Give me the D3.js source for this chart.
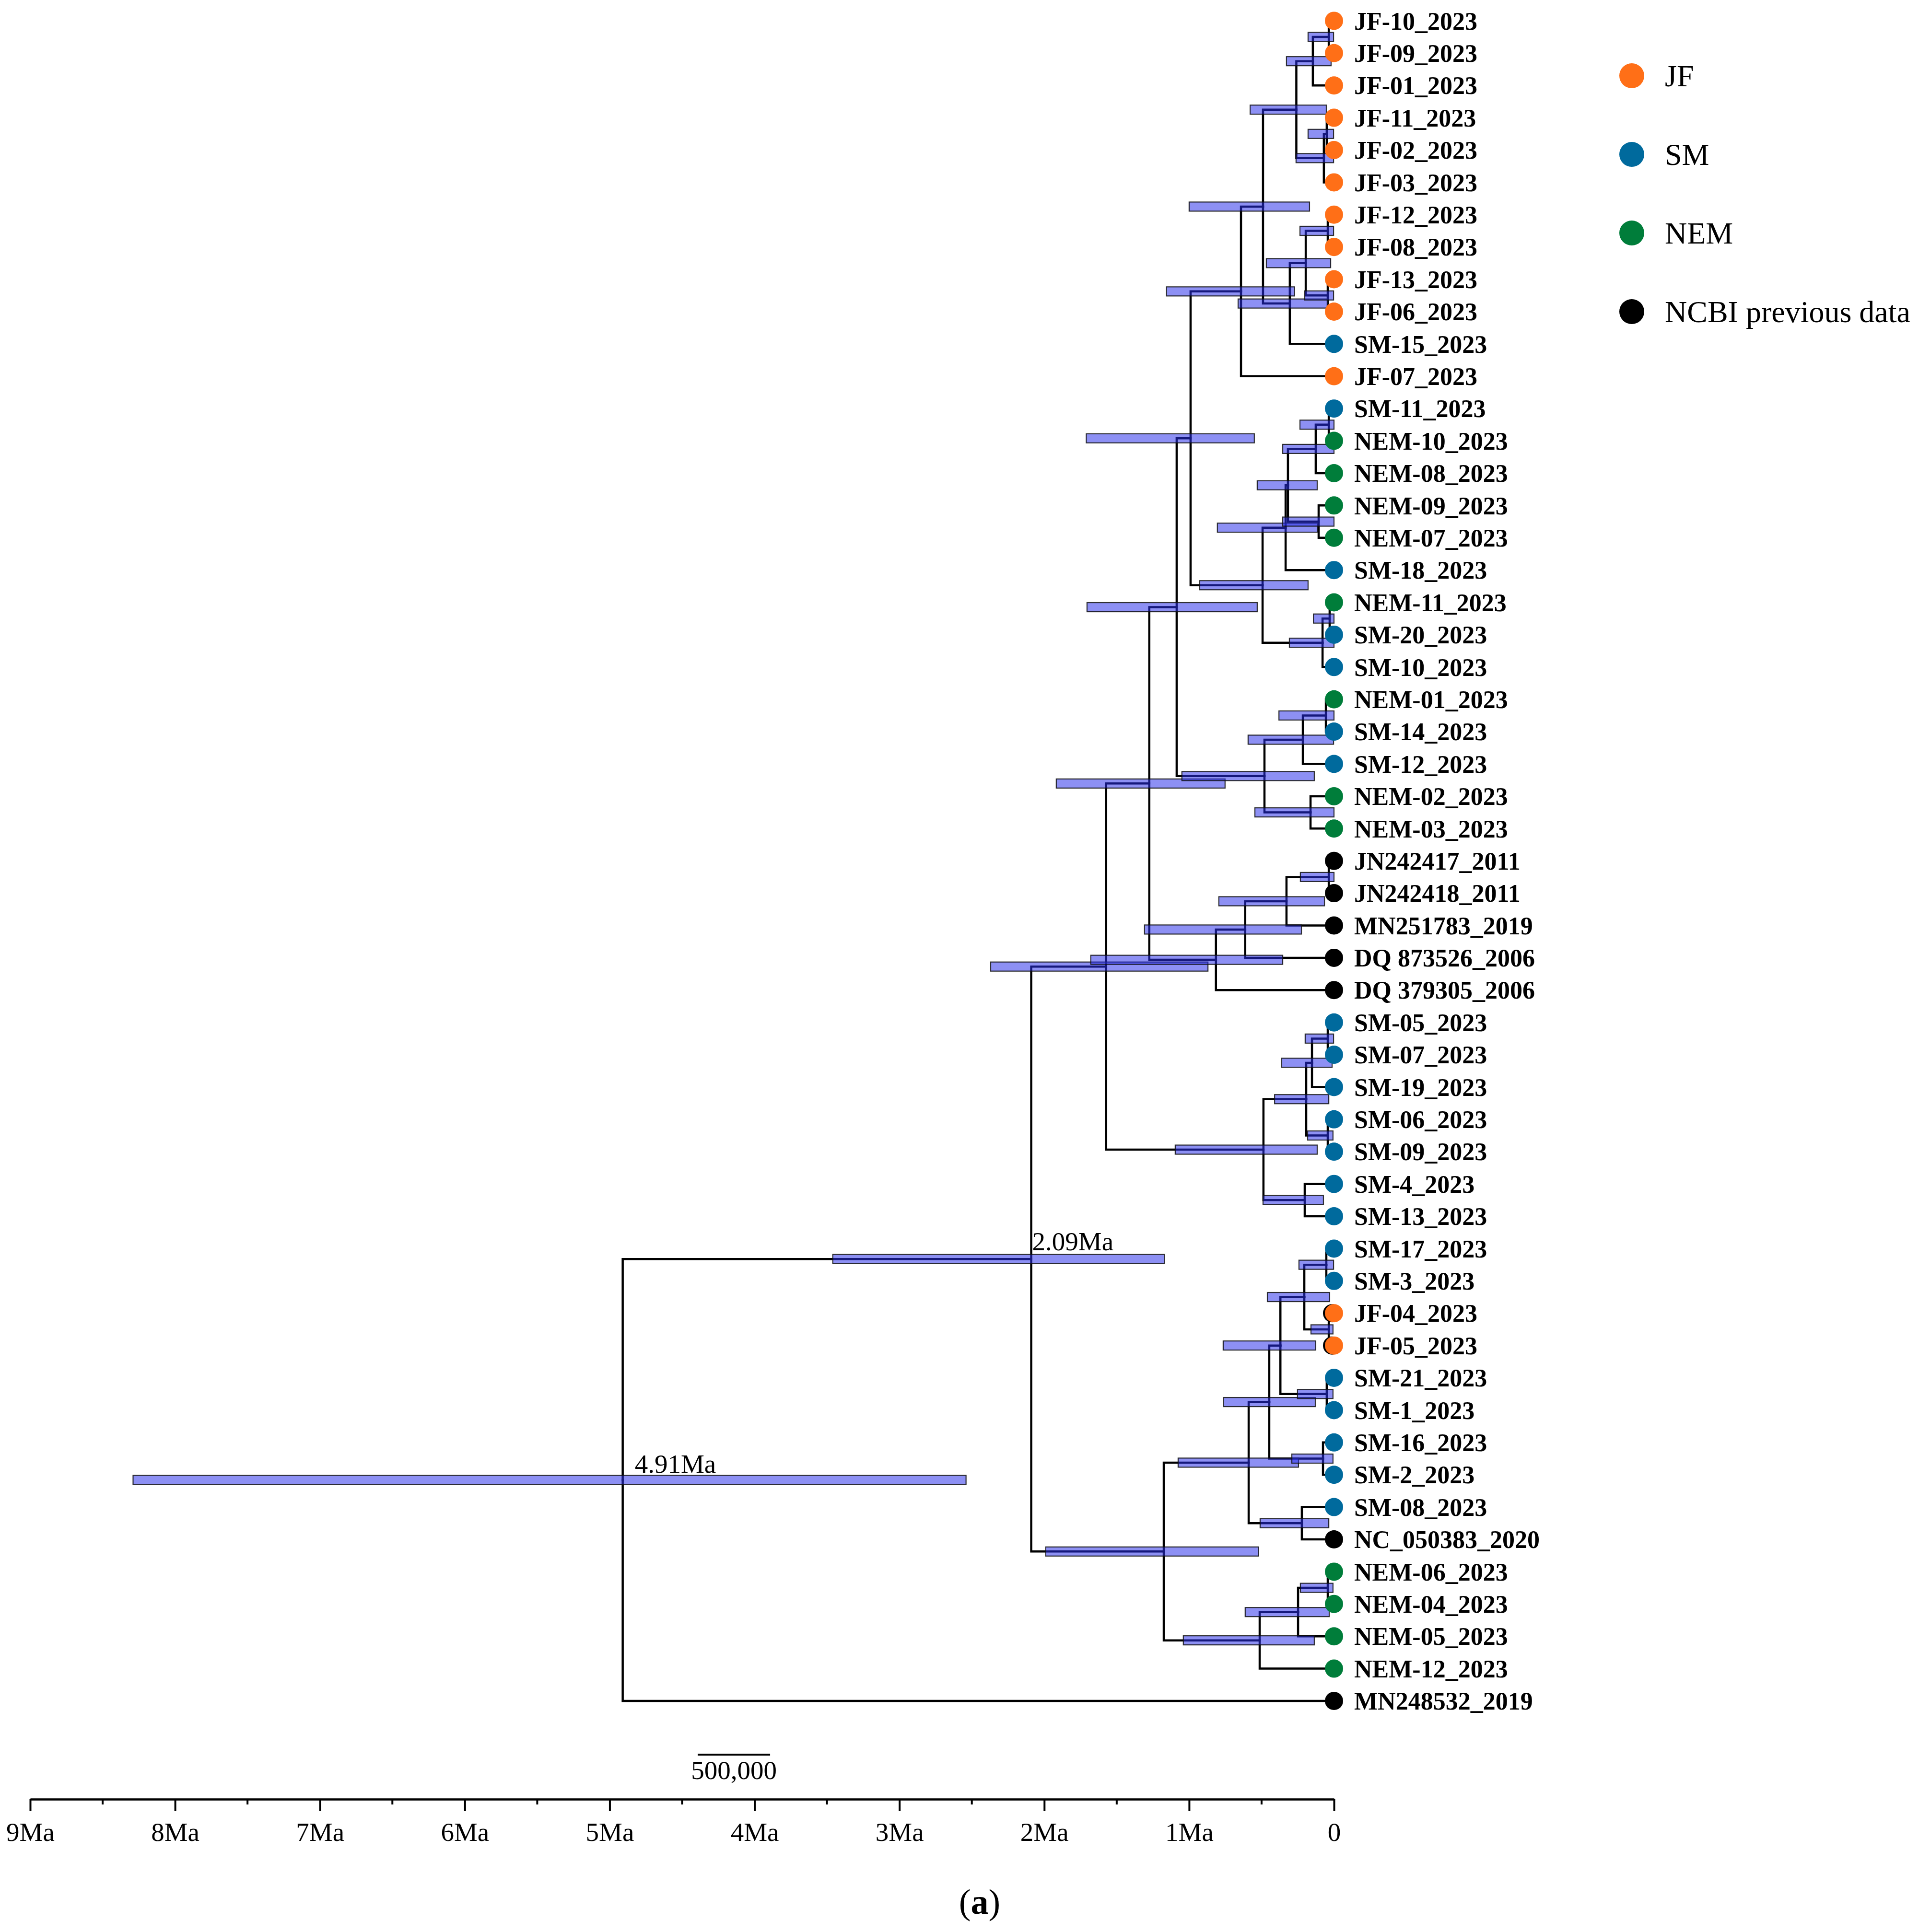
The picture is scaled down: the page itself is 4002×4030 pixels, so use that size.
<!DOCTYPE html>
<html>
<head>
<meta charset="utf-8">
<script src="https://cdn.jsdelivr.net/npm/d3@7"></script>
<style>
  html, body { margin: 0; padding: 0; background: #fff; }
  svg { display: block; }
</style>
</head>
<body>
<script>
// ---------------- DATA ----------------
const tipNames = [
  "JF-10_2023","JF-09_2023","JF-01_2023","JF-11_2023","JF-02_2023","JF-03_2023",
  "JF-12_2023","JF-08_2023","JF-13_2023","JF-06_2023","SM-15_2023","JF-07_2023",
  "SM-11_2023","NEM-10_2023","NEM-08_2023","NEM-09_2023","NEM-07_2023","SM-18_2023",
  "NEM-11_2023","SM-20_2023","SM-10_2023","NEM-01_2023","SM-14_2023","SM-12_2023",
  "NEM-02_2023","NEM-03_2023","JN242417_2011","JN242418_2011","MN251783_2019",
  "DQ 873526_2006","DQ 379305_2006","SM-05_2023","SM-07_2023","SM-19_2023","SM-06_2023",
  "SM-09_2023","SM-4_2023","SM-13_2023","SM-17_2023","SM-3_2023","JF-04_2023","JF-05_2023",
  "SM-21_2023","SM-1_2023","SM-16_2023","SM-2_2023","SM-08_2023","NC_050383_2020",
  "NEM-06_2023","NEM-04_2023","NEM-05_2023","NEM-12_2023","MN248532_2019"
];
const tipGroups = [
  "JF","JF","JF","JF","JF","JF","JF","JF","JF","JF","SM","JF",
  "SM","NEM","NEM","NEM","NEM","SM","NEM","SM","SM","NEM","SM","SM","NEM","NEM",
  "NCBI","NCBI","NCBI","NCBI","NCBI",
  "SM","SM","SM","SM","SM","SM","SM","SM","SM","JF","JF","SM","SM","SM","SM","SM","NCBI",
  "NEM","NEM","NEM","NEM","NCBI"
];
const shadowTips = ["JF-04_2023","JF-05_2023"];

// internal nodes: id, children, age (Ma), 95% HPD lower/upper (Ma)
const nodeIds = [
  "n1","n2","n3","n4","n5","n6","n7","n8","n9","n10","n11","n12",
  "u1","u2","u3","u4","u5","u6","u7","u8",
  "p1","p2","p3","p4","K",
  "c1","c2","c3","c4","L",
  "s1","s2","s3","s4","s5","s6","M",
  "b1","b2","b3","b4","b5","b6","b7","b8","b9","b10","b11","b12","b13",
  "N","root"
];
const nodeChildren = [
  ["JF-10_2023","JF-09_2023"],["n1","JF-01_2023"],["JF-11_2023","JF-02_2023"],["n3","JF-03_2023"],
  ["n2","n4"],["JF-12_2023","JF-08_2023"],["JF-13_2023","JF-06_2023"],["n6","n7"],["n8","SM-15_2023"],
  ["n5","n9"],["n10","JF-07_2023"],["n11","u8"],
  ["SM-11_2023","NEM-10_2023"],["u1","NEM-08_2023"],["NEM-09_2023","NEM-07_2023"],["u2","u3"],
  ["u4","SM-18_2023"],["NEM-11_2023","SM-20_2023"],["u6","SM-10_2023"],["u5","u7"],
  ["NEM-01_2023","SM-14_2023"],["p1","SM-12_2023"],["NEM-02_2023","NEM-03_2023"],["p2","p3"],["n12","p4"],
  ["JN242417_2011","JN242418_2011"],["c1","MN251783_2019"],["c2","DQ 873526_2006"],["c3","DQ 379305_2006"],["K","c4"],
  ["SM-05_2023","SM-07_2023"],["s1","SM-19_2023"],["SM-06_2023","SM-09_2023"],["s2","s3"],
  ["SM-4_2023","SM-13_2023"],["s4","s5"],["L","s6"],
  ["SM-17_2023","SM-3_2023"],["JF-04_2023","JF-05_2023"],["b1","b2"],["SM-21_2023","SM-1_2023"],
  ["b3","b4"],["SM-16_2023","SM-2_2023"],["b5","b6"],["SM-08_2023","NC_050383_2020"],["b7","b8"],
  ["NEM-06_2023","NEM-04_2023"],["b10","NEM-05_2023"],["b11","NEM-12_2023"],["b9","b12"],
  ["M","b13"],["N","MN248532_2019"]
];
const nodeAges = [
  0.036,0.146,0.050,0.070,0.260,0.043,0.043,0.195,0.305,0.490,0.642,0.990,
  0.036,0.126,0.106,0.318,0.334,0.030,0.079,0.493,
  0.056,0.215,0.162,0.480,1.086,
  0.036,0.328,0.613,0.815,1.275,
  0.043,0.152,0.043,0.192,0.202,0.487,1.573,
  0.053,0.036,0.205,0.050,0.370,0.076,0.447,0.222,0.589,0.043,0.248,0.513,1.175,
  2.09,4.91
];
const hpdLower = [
  0.003,0.020,0.003,0.003,0.053,0.003,0.003,0.023,0.043,0.169,0.272,0.550,
  0.000,0.000,0.000,0.116,0.113,0.000,0.000,0.179,
  0.000,0.003,0.000,0.136,0.530,
  0.000,0.066,0.225,0.354,0.752,
  0.003,0.013,0.007,0.036,0.073,0.116,0.870,
  0.003,0.007,0.030,0.007,0.126,0.007,0.129,0.036,0.245,0.007,0.033,0.136,0.520,
  1.17,2.54
];
const hpdUpper = [
  0.179,0.328,0.179,0.262,0.579,0.235,0.202,0.467,0.662,1.000,1.156,1.710,
  0.235,0.354,0.354,0.530,0.805,0.142,0.308,0.927,
  0.380,0.593,0.546,1.050,1.705,
  0.232,0.795,1.308,1.679,1.917,
  0.199,0.361,0.182,0.410,0.490,1.096,2.370,
  0.242,0.159,0.460,0.252,0.765,0.291,0.762,0.510,1.076,0.232,0.613,1.040,1.990,
  3.46,8.29
];
const nodeAgeLabels = [["N","2.09Ma"],["root","4.91Ma"]];

const majorTicks = [9,8,7,6,5,4,3,2,1,0];
const majorTickLabels = ["9Ma","8Ma","7Ma","6Ma","5Ma","4Ma","3Ma","2Ma","1Ma","0"];
const minorTicks = [8.5,7.5,6.5,5.5,4.5,3.5,2.5,1.5,0.5];
const scaleBarLength = 0.5;      // Ma
const scaleBarLabel = "500,000";

const legendKeys = ["JF","SM","NEM","NCBI"];
const legendLabels = ["JF","SM","NEM","NCBI previous data"];
const groupColors = ["#FF6F17","#006A9D","#007D3A","#000000"];
const panelLabel = "a";

// ---------------- LAYOUT ----------------
const W = 4002, H = 4030;
const FONT = "'Liberation Serif','Times New Roman',Times,serif";

const svg = d3.select("body").append("svg")
  .attr("width", W).attr("height", H)
  .attr("viewBox", `0 0 ${W} ${H}`);
svg.append("rect").attr("width", W).attr("height", H).attr("fill", "#fff");

const x = d3.scaleLinear().domain([9, 0]).range([63, 2782]);
const y = d3.scaleLinear().domain([0, tipNames.length - 1]).range([43.4, 3548]);
const color = d3.scaleOrdinal().domain(legendKeys).range(groupColors);

// build tree
const nodeMap = new Map();
tipNames.forEach((n, i) => nodeMap.set(n, {name: n, tip: true, index: i, group: tipGroups[i], age: 0}));
nodeIds.forEach((id, i) => nodeMap.set(id, {name: id, tip: false, age: nodeAges[i], lo: hpdLower[i], hi: hpdUpper[i]}));
nodeIds.forEach((id, i) => { nodeMap.get(id).kids = nodeChildren[i].map(c => nodeMap.get(c)); });

const root = d3.hierarchy(nodeMap.get("root"), d => d.kids);
root.eachAfter(d => {
  d.px = x(d.data.age);
  if (d.data.tip) d.py = y(d.data.index);
  else d.py = d3.mean(d.children, c => c.py);
});

// branches
const gBranch = svg.append("g");
gBranch.selectAll("path")
  .data(root.descendants().filter(d => d.parent))
  .join("path")
  .attr("d", d => `M${d.parent.px},${d.parent.py}V${d.py}H${d.px}`)
  .attr("fill", "none")
  .attr("stroke", "#000")
  .attr("stroke-width", 4.5)
  .attr("stroke-linecap", "square");

// HPD bars
const barH = 19;
svg.append("g").selectAll("rect")
  .data(root.descendants().filter(d => !d.data.tip))
  .join("rect")
  .attr("x", d => x(d.data.hi))
  .attr("width", d => x(d.data.lo) - x(d.data.hi))
  .attr("y", d => d.py - barH / 2)
  .attr("height", barH)
  .attr("fill", "rgb(40,45,235)")
  .attr("fill-opacity", 0.53)
  .attr("stroke", "#111")
  .attr("stroke-opacity", 0.85)
  .attr("stroke-width", 2.2);

// node age labels
nodeAgeLabels.forEach(([id, txt]) => {
  const nd = root.descendants().find(d => d.data.name === id);
  svg.append("text")
    .attr("x", nd.px + (id === "root" ? 25 : 2))
    .attr("y", nd.py - (id === "root" ? 15 : 18))
    .attr("font-family", FONT).attr("font-size", 55)
    .text(txt);
});

// tips
const leaves = root.leaves();
const gTip = svg.append("g");
gTip.selectAll("circle.shadow")
  .data(leaves.filter(d => shadowTips.includes(d.data.name)))
  .join("circle").attr("class", "shadow")
  .attr("cx", d => d.px - 4).attr("cy", d => d.py).attr("r", 19)
  .attr("fill", "#000");
gTip.selectAll("circle.tip")
  .data(leaves)
  .join("circle").attr("class", "tip")
  .attr("cx", d => d.px).attr("cy", d => d.py).attr("r", 19)
  .attr("fill", d => color(d.data.group));
gTip.selectAll("text")
  .data(leaves)
  .join("text")
  .attr("x", d => d.px + 42)
  .attr("y", d => d.py)
  .attr("dy", "0.35em")
  .attr("font-family", FONT)
  .attr("font-weight", "bold")
  .attr("font-size", 52)
  .text(d => d.data.name);

// legend
const gLeg = svg.append("g");
legendKeys.forEach((k, i) => {
  const ly = 158 + i * 164;
  gLeg.append("circle").attr("cx", 3403).attr("cy", ly).attr("r", 26).attr("fill", color(k));
  gLeg.append("text").attr("x", 3472).attr("y", ly + 22)
    .attr("font-family", FONT).attr("font-size", 64)
    .text(legendLabels[i]);
});

// time axis
const axisY = 3753;
const axis = d3.axisBottom(x)
  .tickValues(majorTicks)
  .tickFormat((d, i) => majorTickLabels[i])
  .tickSize(25).tickSizeOuter(0).tickPadding(23);
const gAxis = svg.append("g").attr("transform", `translate(0,${axisY})`).call(axis);
gAxis.select(".domain").attr("stroke-width", 4.5).attr("stroke", "#000");
gAxis.selectAll(".tick line").attr("stroke-width", 4).attr("stroke", "#000");
gAxis.selectAll(".tick text").attr("font-family", FONT).attr("font-size", 55).attr("fill", "#000");
gAxis.selectAll("line.minor")
  .data(minorTicks).join("line").attr("class", "minor")
  .attr("x1", d => x(d)).attr("x2", d => x(d))
  .attr("y1", 0).attr("y2", 11)
  .attr("stroke", "#000").attr("stroke-width", 4);

// scale bar
const sbX0 = 1455, sbY = 3660;
const sbLen = x(0) - x(scaleBarLength);
svg.append("line")
  .attr("x1", sbX0).attr("x2", sbX0 + sbLen)
  .attr("y1", sbY).attr("y2", sbY)
  .attr("stroke", "#000").attr("stroke-width", 4);
svg.append("text")
  .attr("x", sbX0 + sbLen / 2).attr("y", 3711)
  .attr("text-anchor", "middle")
  .attr("font-family", FONT).attr("font-size", 55)
  .text(scaleBarLabel);

// panel label
const pl = svg.append("text")
  .attr("x", 2043).attr("y", 3992)
  .attr("text-anchor", "middle")
  .attr("font-family", FONT).attr("font-size", 74);
pl.append("tspan").text("(");
pl.append("tspan").attr("font-weight", "bold").text(panelLabel);
pl.append("tspan").text(")");
</script>
</body>
</html>
